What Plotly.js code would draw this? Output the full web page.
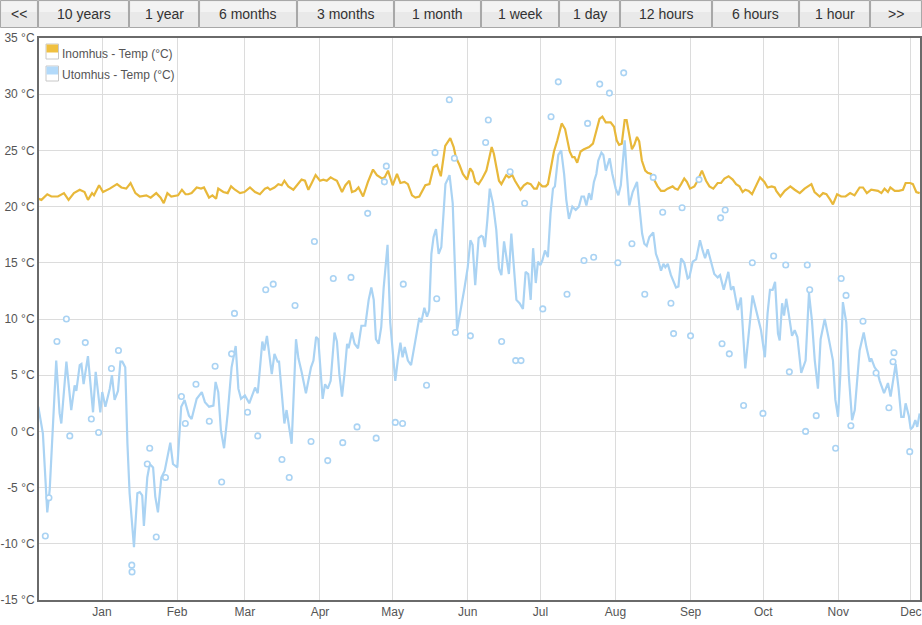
<!DOCTYPE html>
<html>
<head>
<meta charset="utf-8">
<script src="https://cdn.plot.ly/plotly-3.0.1.min.js"></script>
<style>
html,body{margin:0;padding:0;background:#fff;}
#chart{width:922px;height:625px;}
</style>
</head>
<body>
<div id="chart"></div>
<script>
// ---- data (x = days since 2019-01-01, y = °C) ----
const seriesNames = ['Inomhus - Temp (°C)', 'Utomhus - Temp (°C)'];
const buttonLabels = ['<<', '10 years', '1 year', '6 months', '3 months', '1 month', '1 week', '1 day', '12 hours', '6 hours', '1 hour', '>>'];

const inneDag = [-26.3,-25.0,-22.6,-20.9,-18.2,-15.7,-13.8,-11.6,-9.2,-7.2,-5.8,-4.1,-3.3,-1.2,0.4,3.2,6.2,8.0,10.0,11.8,13.8,15.6,18.3,20.1,22.4,24.2,25.5,27.0,28.6,31.4,33.0,
34.5,35.6,37.0,39.1,40.9,42.1,44.2,45.6,47.1,48.0,50.1,51.9,53.3,54.9,57.0,58.8,61.1,63.2,65.2,67.3,68.4,69.4,71.2,72.8,74.2,75.3,76.9,79.0,80.4,82.4,83.8,85.2,86.6,88.2,90.0,91.4,92.8,94.4,
96.0,97.0,99.1,100.5,102.1,103.2,104.6,105.9,107.8,109.8,111.9,113.5,115.6,116.7,118.1,120.0,121.8,123.2,124.9,126.3,128.0,129.4,131.0,133.5,135.2,136.9,138.3,139.9,141.7,143.8,145.2,146.1,147.6,149.0,150.7,152.0,153.0,154.1,155.5,
157.0,158.7,159.8,160.9,161.8,162.9,163.9,164.9,166.0,166.9,168.0,169.4,170.5,171.9,172.8,174.2,175.6,177.0,178.4,179.5,180.4,181.8,183.2,184.1,185.2,186.6,188.0,189.8,191.2,192.1,193.1,194.2,195.1,196.2,197.6,199.0,201.1,202.7,203.8,205.4,206.6,208.0,210.0,211.4,212.5,213.5,214.6,215.8,216.6,
217.4,218.8,219.8,220.9,221.8,222.9,224.3,225.3,226.7,228.0,229.4,230.8,232.2,233.5,235.6,236.6,237.7,239.1,240.4,241.5,242.8,244.6,245.9,247.7,249.4,250.8,252.4,254.2,255.6,257.0,258.7,260.4,261.8,263.2,264.5,265.6,267.0,268.4,270.0,271.7,273.5,274.8,276.5,
277.8,278.4,280.1,281.9,284.2,286.0,288.1,290.1,292.9,294.2,296.3,297.7,299.1,300.7,301.8,303.5,305.2,307.0,308.9,310.7,312.8,314.2,315.8,317.6,320.4,321.8,323.1,324.5,325.5,327.3,329.0,330.7,331.8,333.7,334.8,336.2,337.6];
const inneTemp = [20.7,20.6,21.1,20.9,20.9,21.2,20.6,21.2,21.5,21.3,20.6,21.2,21.0,21.9,21.3,21.6,22.0,21.7,21.6,22.1,21.2,20.9,21.0,20.8,21.2,20.8,20.3,21.2,20.9,21.0,21.5,
21.1,21.1,21.2,21.7,21.6,21.7,20.8,21.0,20.7,21.6,21.3,21.2,21.8,21.5,21.2,21.3,21.7,21.3,21.1,21.6,21.7,21.5,21.7,22.0,21.9,22.3,21.8,21.5,21.9,22.4,22.3,21.5,22.1,22.8,22.3,22.4,22.3,22.6,
22.4,22.3,21.3,21.9,22.3,21.3,21.4,21.7,20.9,22.2,23.3,22.8,22.5,22.6,23.2,21.9,22.9,22.1,22.2,22.0,21.0,20.8,20.9,21.9,22.0,23.5,23.7,22.7,25.4,26.1,25.3,24.4,23.7,22.9,22.4,23.4,23.1,22.2,22.0,
22.5,23.2,24.4,25.3,24.7,23.5,22.3,22.0,22.5,22.8,22.6,22.8,22.3,21.8,21.5,21.9,22.1,22.0,21.6,21.6,22.1,21.8,21.8,22.0,23.2,24.9,25.9,27.4,26.9,25.9,24.9,24.4,24.4,23.9,24.9,25.1,25.3,25.6,26.4,27.8,28.0,27.5,27.5,27.1,25.9,25.5,25.6,27.7,27.7,
26.8,25.1,25.5,26.2,25.8,24.1,23.2,23.0,22.9,22.3,21.8,21.4,21.4,21.6,21.8,21.6,21.5,22.0,22.5,22.2,21.6,21.8,22.3,23.2,22.3,21.8,21.6,22.1,22.1,22.5,22.7,22.4,22.0,21.8,21.3,21.5,21.4,21.1,21.9,22.6,22.2,21.7,21.8,
21.7,21.4,20.9,21.4,21.8,21.5,21.2,21.6,22.0,21.3,20.9,21.2,21.1,20.6,20.2,21.1,20.9,20.9,21.2,21.0,21.7,21.7,21.2,21.5,21.4,21.2,21.6,21.3,21.7,21.4,21.4,21.5,22.1,22.1,22.0,21.3,21.2];

const uteDag = [-26.3,-24.4,-22.6,-21.6,-18.9,-17.5,-16.8,-14.7,-12.7,-11.3,-10.6,-9.2,-8.5,-7.6,-5.8,-3.7,-2.6,-0.7,0.1,1.4,3.2,4.1,5.2,6.6,7.6,8.4,9.6,10.5,11.4,13.2,14.6,15.6,16.6,17.3,18.7,19.7,21.1,22.0,23.1,24.5,25.9,28.2,29.3,31.1,32.7,34.1,
35.9,37.0,39.1,41.2,42.5,44.2,46.0,46.9,48.0,49.1,50.4,51.9,53.5,55.2,56.3,57.4,59.0,60.8,63.2,64.3,66.2,67.0,68.1,70.1,71.2,72.5,73.1,75.3,76.2,78.3,80.1,81.1,82.4,84.2,86.3,87.3,88.4,89.3,91.1,92.1,93.2,94.4,
96.0,97.0,98.0,99.1,100.1,101.2,101.8,103.2,104.3,105.7,107.1,108.7,110.1,111.2,112.2,113.1,114.2,115.3,116.3,117.9,119.0,120.0,121.1,122.1,123.2,124.1,125.0,126.3,127.6,129.4,131.0,131.8,133.1,134.2,135.1,136.0,136.9,137.9,139.0,140.1,141.8,143.5,144.8,146.6,147.9,149.7,151.0,152.1,153.0,154.1,155.5,
156.6,157.3,158.1,159.1,160.1,161.4,162.8,163.9,164.9,166.0,166.9,168.0,169.0,170.1,171.1,172.4,173.8,174.9,176.0,177.0,178.0,179.1,180.0,181.0,181.8,182.9,184.1,185.2,186.2,187.0,188.4,189.6,190.8,191.7,192.8,194.2,195.6,196.9,198.0,199.0,200.0,201.1,202.0,203.1,204.1,204.9,206.2,207.0,208.0,209.6,210.7,212.1,213.2,214.2,215.8,216.6,
217.7,219.1,220.9,221.9,223.0,223.9,224.9,226.0,227.6,228.7,229.7,230.8,231.8,232.6,233.6,234.9,237.0,238.0,239.1,240.4,241.8,242.5,243.9,245.3,246.9,248.0,249.0,250.1,251.4,252.8,254.2,255.2,256.7,258.6,259.7,260.7,262.5,263.8,265.6,267.0,268.6,270.4,272.1,273.7,274.8,275.8,276.9,
277.9,278.4,279.1,279.8,280.8,281.6,282.5,283.5,284.9,286.0,287.1,288.7,290.5,291.9,293.1,294.3,295.6,296.7,298.4,300.2,301.8,302.8,303.9,304.8,305.9,307.3,308.4,309.7,310.8,312.8,314.5,315.6,317.0,317.6,319.0,320.0,321.1,322.9,324.5,325.6,326.6,327.7,328.9,330.0,331.0,331.8,333.1,333.9,334.8,335.8,336.6,337.6];
const uteTemp = [2.2,-0.2,-7.2,-5.2,6.3,1.6,0.7,6.2,1.9,4.1,3.6,5.9,6.0,4.2,6.7,1.7,5.3,1.7,3.5,2.2,3.8,5.0,2.8,3.6,6.2,6.2,5.7,-1.1,-5.5,-10.3,-5.5,-5.4,-5.7,-8.4,-4.1,-2.9,-3.2,-5.8,-7.2,-4.1,-3.5,-1.0,-2.9,-3.2,2.2,2.8,
1.4,1.1,2.9,3.5,2.6,2.2,2.3,4.4,3.5,0.1,-1.5,1.6,5.7,7.6,3.8,2.9,3.2,2.5,3.9,3.4,8.0,7.2,8.5,5.1,6.9,6.2,6.2,0.7,1.9,-1.1,8.2,6.5,5.3,3.4,5.7,6.3,8.4,8.2,2.9,4.2,3.8,4.5,
8.8,8.0,5.1,3.1,5.1,7.8,7.4,8.8,7.8,7.4,9.4,9.4,11.7,12.8,11.7,8.2,7.8,9.3,12.8,16.6,9.7,6.9,4.5,6.3,7.9,6.6,7.5,6.3,5.9,8.1,10.1,9.7,11.0,10.2,10.8,15.8,17.3,18.0,15.8,16.4,22.0,22.8,20.3,9.0,10.5,12.8,14.6,17.0,16.6,13.0,17.2,
17.4,17.3,16.4,18.8,21.6,20.3,17.9,14.5,13.9,16.9,15.5,14.0,17.6,14.0,11.7,11.4,10.9,14.2,14.0,11.7,16.3,13.2,15.1,14.8,15.2,16.1,15.5,19.4,21.6,21.8,24.6,25.0,22.9,20.6,18.9,20.0,19.7,20.0,20.9,20.9,20.1,21.2,20.6,22.2,22.9,24.1,24.8,24.6,23.2,24.3,22.9,21.6,21.0,21.9,25.9,23.2,
20.1,21.3,22.2,20.0,17.6,16.7,16.5,17.3,17.7,15.8,15.2,14.3,14.9,14.6,14.9,13.9,12.8,12.9,15.4,15.0,13.6,13.7,15.1,15.3,17.0,16.1,15.4,16.2,15.2,14.0,13.7,13.9,12.6,14.2,12.6,12.9,10.8,11.9,5.6,8.4,12.1,10.5,9.0,6.6,10.5,12.6,12.6,
13.3,11.7,8.7,8.1,11.4,10.3,11.8,10.5,8.5,9.0,8.4,5.2,6.3,12.3,9.9,6.3,3.8,8.2,10.0,8.1,6.3,2.8,1.3,4.9,11.5,9.7,4.8,1.0,1.9,7.2,8.8,7.5,6.2,6.5,5.7,5.4,4.5,3.4,4.3,3.1,4.7,6.0,3.8,1.3,1.3,2.5,1.4,0.2,0.4,1.0,0.4,1.6];

const punktDag = [-23.4,-21.9,-18.6,-14.7,-13.3,-6.9,-4.4,-1.4,3.9,6.8,12.3,12.4,18.7,19.7,22.4,26.2,32.8,34.4,38.8,44.3,46.7,49.4,53.5,54.7,60.1,64.3,67.6,70.7,74.3,77.3,79.7,86.3,87.7,93.2,95.5,99.4,102.8,105.3,109.7,113.2,116.6,117.4,121.1,124.1,124.4,134.0,137.5,138.2,143.4,145.5,145.9,152.1,158.4,159.5,165.0,168.5,170.8,173.0,174.5,182.0,185.4,188.4,192.0,199.0,200.5,203.0,205.5,209.5,213.0,215.4,218.8,224.1,227.6,231.5,234.9,236.0,239.5,243.0,246.5,255.4,256.0,257.3,259.0,264.9,268.5,272.9,277.3,282.3,283.8,290.5,291.2,292.2,294.9,302.9,305.2,307.2,309.2,314.2,319.6,324.9,326.6,327.0,333.5];
const punktTemp = [-9.3,-5.9,8.0,10.0,-0.4,7.9,1.1,-0.1,5.6,7.2,-11.9,-12.5,-2.9,-1.5,-9.4,-4.1,3.1,0.7,4.2,0.9,5.8,-4.5,6.9,10.5,1.7,-0.4,12.6,13.1,-2.5,-4.1,11.2,-0.9,16.9,-2.6,13.6,-1.0,13.7,0.4,19.4,-0.6,22.2,23.6,0.8,0.7,13.1,4.1,24.8,11.8,29.5,24.3,8.8,8.5,25.7,27.7,8.0,23.1,6.3,6.3,20.3,10.9,28.0,31.1,12.2,15.2,27.4,15.5,30.9,30.1,15.0,31.9,16.7,12.2,22.6,19.5,11.4,8.7,19.9,8.5,22.4,19.0,7.8,19.7,6.9,2.3,15.0,1.6,15.6,14.8,5.3,0.0,14.8,12.6,1.4,-1.5,13.6,12.1,0.5,9.8,5.2,2.1,6.2,7.0,-1.8];

const yTicks = [-15,-10,-5,0,5,10,15,20,25,30,35];

// ---- helpers ----
function dagTillDatum(d){
  const t = new Date(Date.UTC(2019,0,1) + Math.round(d*24*60)*60000);
  return t.toISOString().slice(0,16).replace('T',' ');
}

// layout geometry (pixels)
const W = 922, H = 625;
const M = {l:39, r:2, t:38, b:25};
const pw = W - M.l - M.r, ph = H - M.t - M.b;
const px = x => (x - M.l)/pw;
const py = y => (H - M.b - y)/ph;

const colInne = '#e8b83a', colUte = '#aad3f3';

const traces = [
  {x: uteDag.map(dagTillDatum), y: uteTemp, type:'scatter', mode:'lines', name: seriesNames[1],
   line:{color:colUte, width:2.2}, showlegend:false, hoverinfo:'x+y'},
  {x: inneDag.map(dagTillDatum), y: inneTemp, type:'scatter', mode:'lines', name: seriesNames[0],
   line:{color:colInne, width:2.2}, showlegend:false, hoverinfo:'x+y'},
  {x: punktDag.map(dagTillDatum), y: punktTemp, type:'scatter', mode:'markers', name: seriesNames[1],
   marker:{symbol:'circle', size:5.5, color:'#ffffff', line:{color:colUte, width:1.6}}, showlegend:false, hoverinfo:'x+y'}
];

// button bar
const btnEdges = [0, 38, 129, 199, 297, 394, 481, 559, 620, 712, 799, 870, 922];
const shapes = [];
const annotations = [];
shapes.push({type:'rect', xref:'paper', yref:'paper', x0:px(0), x1:px(922), y0:py(28), y1:py(0),
  fillcolor:'#e3e3e3', line:{width:0}, layer:'above'});
for (let i = 0; i < buttonLabels.length; i++) {
  const a = btnEdges[i], b = btnEdges[i+1];
  shapes.push({type:'rect', xref:'paper', yref:'paper', x0:px(a+0.5), x1:px(b-0.5), y0:py(27.5), y1:py(0.5),
    fillcolor:'#e9e9e9', line:{color:'#a8a8a8', width:1}, layer:'above'});
  shapes.push({type:'rect', xref:'paper', yref:'paper', x0:px(a+1.5), x1:px(b-1.5), y0:py(12), y1:py(1.5),
    fillcolor:'#f3f3f3', line:{width:0}, layer:'above'});
  annotations.push({xref:'paper', yref:'paper', x:px((a+b)/2), y:py(14), xanchor:'center', yanchor:'middle',
    text: buttonLabels[i].replace(/</g,'&lt;').replace(/>/g,'&gt;'), showarrow:false,
    font:{family:'Liberation Sans, Arial, sans-serif', size:14, color:'#333'}});
}

// legend (drawn inside plot, top-left)
const legendRows = [{name:seriesNames[0], col:'#f0c040', top:44}, {name:seriesNames[1], col:'#b3dafa', top:66}];
legendRows.forEach(r => {
  shapes.push({type:'rect', xref:'paper', yref:'paper', x0:px(46), x1:px(58.5), y0:py(r.top+15), y1:py(r.top),
    fillcolor:'#ffffff', line:{color:'#c8c8c8', width:1}, layer:'above'});
  shapes.push({type:'rect', xref:'paper', yref:'paper', x0:px(46.5), x1:px(58), y0:py(r.top+8.5), y1:py(r.top+0.5),
    fillcolor:r.col, line:{width:0}, layer:'above'});
  annotations.push({xref:'paper', yref:'paper', x:px(59.5), y:py(r.top+9.5), xanchor:'left', yanchor:'middle',
    text:r.name, showarrow:false, font:{family:'Liberation Sans, Arial, sans-serif', size:12, color:'#555'}});
});

const layout = {
  width: W, height: H,
  margin: M,
  paper_bgcolor:'#ffffff', plot_bgcolor:'#ffffff',
  showlegend:false,
  font:{family:'Liberation Sans, Arial, sans-serif', size:12, color:'#555'},
  xaxis:{
    type:'date',
    range:[dagTillDatum((M.l-102)/2.422), dagTillDatum((W-M.r-102)/2.422)],
    tick0:'2019-01-01', dtick:'M1', tickformat:'%b',
    showgrid:true, gridcolor:'#dcdcdc', gridwidth:1,
    showline:true, linecolor:'#6a6a6a', linewidth:2, mirror:true,
    zeroline:false, ticks:'', tickfont:{size:12, color:'#555'}
  },
  yaxis:{
    range:[-15,35], tickvals:yTicks, ticktext:yTicks.map(v => v + ' °C'),
    showgrid:true, gridcolor:'#dcdcdc', gridwidth:1,
    showline:true, linecolor:'#6a6a6a', linewidth:2, mirror:true,
    zeroline:false, ticks:'', tickfont:{size:12, color:'#555'}
  },
  shapes: shapes,
  annotations: annotations
};

Plotly.newPlot('chart', traces, layout, {displayModeBar:false, responsive:false});
</script>
</body>
</html>
